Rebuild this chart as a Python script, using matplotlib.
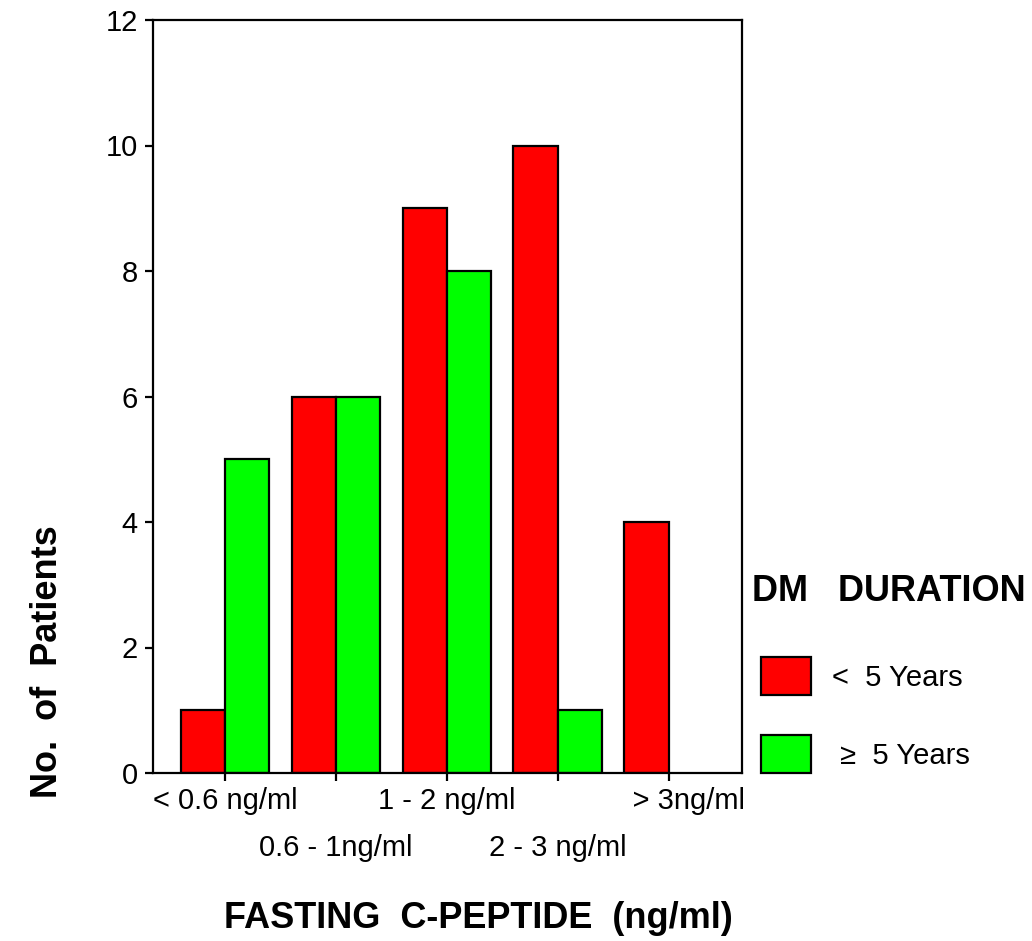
import numpy as np
import matplotlib
matplotlib.use('Agg')
import matplotlib.pyplot as plt

plt.rcParams['font.family'] = ['Liberation Sans', 'DejaVu Sans']

categories = ['< 0.6 ng/ml', '0.6 - 1ng/ml', '1 - 2 ng/ml', '2 - 3 ng/ml', '     > 3ng/ml']
under_5 = [1, 6, 9, 10, 4]
over_5 = [5, 6, 8, 1, 0]
legend_labels = ['<  5 Years', ' \u2265  5 Years']
y_ticks = [0, 2, 4, 6, 8, 10, 12]

fig = plt.figure(figsize=(10.32, 9.41), dpi=100)
ax = fig.add_axes([153 / 1032, 1 - 773 / 941, (742 - 153) / 1032, (773 - 20) / 941])

x = np.arange(len(categories))
width = 0.4
b1 = ax.bar(x, under_5, width=-width, align='edge', color='#ff0000',
            edgecolor='black', linewidth=1.6, label=legend_labels[0])
# no green bar in the last group
b2 = ax.bar(x[:4], over_5[:4], width=width, align='edge', color='#00ff00',
            edgecolor='black', linewidth=1.6, label=legend_labels[1])

ax.set_xlim(-0.65, 4.66)
ax.set_ylim(0, 12)
ax.set_yticks(y_ticks)
ax.set_xticks(x)
ax.set_xticklabels(categories)
ax.tick_params(axis='both', direction='out', length=6, width=1.6, labelsize=21)
ax.tick_params(axis='y', pad=5)
ax.tick_params(axis='x', pad=4)
# stagger the category labels on two rows
for i, tick in enumerate(ax.xaxis.get_major_ticks()):
    if i % 2 == 1:
        tick.set_pad(38)
for s in ax.spines.values():
    s.set_linewidth(1.6)

fig.text(48 / 1032, 1 - 662 / 941, 'No.  of  Patients', rotation=90,
         ha='center', va='center', fontsize=26, fontweight='bold')
fig.text(478 / 1032, 1 - 928 / 941, 'FASTING  C-PEPTIDE  (ng/ml)',
         ha='center', va='baseline', fontsize=26, fontweight='bold')
fig.text(889 / 1032, 1 - 601 / 941, 'DM   DURATION',
         ha='center', va='baseline', fontsize=26, fontweight='bold')

fig.legend(handles=[b1, b2], loc='upper left', bbox_to_anchor=(735 / 1032, 1 - 631 / 941),
           frameon=False, fontsize=21, handlelength=1.71, handleheight=1.62,
           labelspacing=1.37, handletextpad=0.7)

fig.savefig('out.png', dpi=100)
